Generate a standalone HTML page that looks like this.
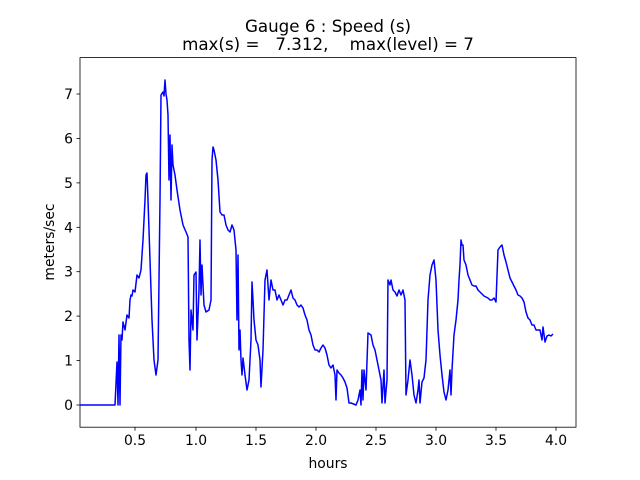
<!DOCTYPE html>
<html><head><meta charset="utf-8"><style>body{margin:0;background:#fff}svg{display:block}text{font-family:"DejaVu Sans","Liberation Sans",sans-serif;fill:#000}</style></head><body>
<svg width="640" height="480" viewBox="0 0 640 480">
<rect x="80" y="57.6" width="496" height="369.6" fill="none" stroke="#000" stroke-width="0.8"/>
<g stroke="#000" stroke-width="0.8">
<line x1="135" y1="427.2" x2="135" y2="430.7"/><line x1="196" y1="427.2" x2="196" y2="430.7"/><line x1="256" y1="427.2" x2="256" y2="430.7"/><line x1="316" y1="427.2" x2="316" y2="430.7"/><line x1="376" y1="427.2" x2="376" y2="430.7"/><line x1="436" y1="427.2" x2="436" y2="430.7"/><line x1="496" y1="427.2" x2="496" y2="430.7"/><line x1="556" y1="427.2" x2="556" y2="430.7"/>
<line x1="76.5" y1="405" x2="80" y2="405"/><line x1="76.5" y1="360.6" x2="80" y2="360.6"/><line x1="76.5" y1="316.1" x2="80" y2="316.1"/><line x1="76.5" y1="271.7" x2="80" y2="271.7"/><line x1="76.5" y1="227.3" x2="80" y2="227.3"/><line x1="76.5" y1="182.9" x2="80" y2="182.9"/><line x1="76.5" y1="138.4" x2="80" y2="138.4"/><line x1="76.5" y1="94" x2="80" y2="94"/>
</g>
<g font-size="13.9" text-anchor="middle">
<text x="135" y="445">0.5</text><text x="196" y="445">1.0</text><text x="256" y="445">1.5</text><text x="316" y="445">2.0</text><text x="376" y="445">2.5</text><text x="436" y="445">3.0</text><text x="496" y="445">3.5</text><text x="556" y="445">4.0</text>
</g>
<g font-size="13.9" text-anchor="end">
<text x="73" y="410">0</text><text x="73" y="365.6">1</text><text x="73" y="321.1">2</text><text x="73" y="276.7">3</text><text x="73" y="232.3">4</text><text x="73" y="187.9">5</text><text x="73" y="143.4">6</text><text x="73" y="99">7</text>
</g>
<text x="328" y="468" font-size="13.9" text-anchor="middle">hours</text>
<text x="0" y="0" font-size="13.9" text-anchor="middle" transform="translate(54,242) rotate(-90)">meters/sec</text>
<text x="328" y="32" font-size="16.7" text-anchor="middle">Gauge 6 : Speed (s)</text>
<text x="328" y="50" font-size="16.7" text-anchor="middle" xml:space="preserve">max(s) =   7.312,    max(level) = 7</text>
<polyline fill="none" stroke="#0000ff" stroke-width="1.5" stroke-linejoin="round" points="80,405 115,405 117,362 118,405 119,335 120,405 121,335 122,340 123,322 125,330 127,315 129,318 130,300 131,295 132,296 133,290 135,292 137,275 139,278 141,270 143,240 145,200 146,175 147,173 148,200 150,260 152,320 154,360 156,375 158,360 160,200 161,95 163,92 164,96 165,80 166,94 167,100 168,115 169,180 170,135 171,200 172,145 173,165 175,175 177,190 180,210 183,225 186,232 188,237 189,340 190,370 191,310 193,330 194,275 196,272 197,340 199,290 200,240 201,295 202,265 204,305 206,312 209,310 211,300 212,160 213,147 214,150 216,160 218,180 220,212 222,215 224,215 226,225 228,230 230,232 232,225 234,230 236,250 237,320 238,255 239,350 240,330 241,360 242,375 243,358 245,375 247,390 249,380 251,340 252,282 253,300 254,320 256,340 258,345 260,360 261,387 263,350 265,280 267,270 269,300 271,280 273,290 275,290 277,300 279,295 281,300 283,305 285,300 287,300 289,295 291,290 293,298 295,300 297,305 299,307 301,305 303,308 305,315 307,320 309,330 311,335 313,345 315,350 317,350 319,352 321,348 323,345 325,348 327,355 329,365 331,368 333,365 335,375 336,400 337,370 339,373 341,375 343,378 345,382 347,388 349,403 351,403 356,405 358,400 360,390 361,405 362,370 363,400 364,370 366,390 368,333 371,335 373,345 375,350 377,360 379,370 381,380 382,403 384,370 385,403 387,380 388,280 390,285 391,280 393,290 395,292 397,296 399,290 401,295 403,290 405,300 406,395 408,380 410,360 412,375 414,395 416,403 418,390 419,380 420,403 422,382 424,378 426,360 428,300 430,275 432,265 434,260 436,280 438,330 440,355 442,375 444,392 446,400 448,390 450,370 451,395 452,370 454,335 456,320 458,300 459,280 460,265 461,240 462,245 463,245 464,260 466,265 468,275 470,280 472,285 474,286 476,286 478,290 480,292 482,294 484,296 486,297 488,298 490,300 492,300 494,298 496,302 498,250 500,247 502,245 504,255 506,262 508,270 510,278 512,282 514,286 516,290 518,295 520,296 522,298 524,302 526,312 528,318 530,320 532,325 534,325 536,330 538,330 540,330 542,340 543,327 545,342 547,336 549,335 551,336 553,334"/>
</svg>
</body></html>
